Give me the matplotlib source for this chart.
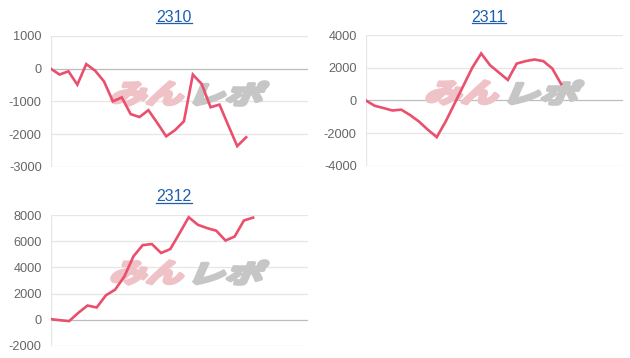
import matplotlib
matplotlib.use('Agg')
import matplotlib.pyplot as plt
from matplotlib.textpath import TextPath
from matplotlib.patches import PathPatch
from matplotlib.font_manager import FontProperties
from matplotlib.transforms import Affine2D, IdentityTransform
from matplotlib.lines import Line2D

# monthly cumulative P/L, one value per trading day
titles = ['2310', '2311', '2312']
pl_2310 = [0, -180, -80, -490, 140, -60, -390, -1000, -880, -1390, -1480,
           -1270, -1660, -2070, -1880, -1610, -180, -470, -1180, -1100,
           -1740, -2370, -2100]
pl_2311 = [0, -330, -470, -620, -570, -900, -1300, -1800, -2250, -1300,
           -200, 900, 2000, 2870, 2150, 1700, 1250, 2250, 2400, 2500, 2400,
           1950, 1000]
pl_2312 = [50, -30, -100, 530, 1090, 940, 1870, 2300, 3300, 4850, 5700,
           5780, 5100, 5400, 6600, 7830, 7250, 7000, 6800, 6050, 6360, 7580,
           7800]
yticks_2310 = [-3000, -2000, -1000, 0, 1000]
yticks_2311 = [-4000, -2000, 0, 2000, 4000]
yticks_2312 = [-2000, 0, 2000, 4000, 6000, 8000]
xspan = [29, 29, 28]

W, H = 630, 358
LINE = '#ea4f6c'
LINK = '#1f5fae'
GRID = '#e6e6e6'
ZERO = '#bdbdbd'

fig = plt.figure(figsize=(W / 100, H / 100), dpi=100)

# axes boxes in pixels: left, top, width, height
boxes = [(50.7, 36, 257.6, 130.7), (365.7, 35, 257.6, 130.7),
         (50.7, 215, 257.6, 131)]
series = [pl_2310, pl_2311, pl_2312]
yticks = [yticks_2310, yticks_2311, yticks_2312]

fp = FontProperties(family='Noto Sans CJK JP', weight='bold')


def mark(ax, text, x0, x1, color):
    # watermark logo drawn as a skewed, thickened text path
    tp = TextPath((0, 0), text, size=1, prop=fp)
    path = Affine2D().skew_deg(16, 0).transform_path(tp)
    ext = path.get_extents()
    bb = ax.get_position()
    left, top = bb.x0 * W, bb.y1 * H
    xa, xb = left + x0 + 2, left + x1 - 2
    ytop, ybot = top - 46, top - 69
    t = (Affine2D().translate(-ext.x0, -ext.y0)
         .scale((xb - xa) / ext.width, (ytop - ybot) / ext.height)
         .translate(xa, ybot))
    p = PathPatch(t.transform_path(path), fc=color, ec=color, lw=2.6,
                  joinstyle='round', transform=IdentityTransform(), zorder=1)
    ax.add_patch(p)


axes = []
for (l, t, w, h), vals, yt, xs in zip(boxes, series, yticks, xspan):
    ax = fig.add_axes([l / W, (H - t - h) / H, w / W, h / H])
    ax.plot(range(len(vals)), vals, color=LINE, lw=1.9, zorder=3,
            solid_joinstyle='miter')
    for v in yt:
        ax.axhline(v, color=ZERO if v == 0 else GRID, lw=0.9, zorder=0.5)
    ax.axvline(0, color=GRID, lw=0.9, zorder=0.5)
    ax.set_xlim(0, xs)
    ax.set_ylim(yt[0], yt[-1])
    ax.set_yticks(yt)
    ax.set_yticklabels([str(v) for v in yt])
    ax.set_xticks([])
    ax.tick_params(axis='y', length=0, pad=6.5, labelsize=9.2,
                   labelcolor='#666666')
    for lab in ax.get_yticklabels():
        lab.set_family('Liberation Sans')
    for s in ax.spines.values():
        s.set_visible(False)
    ax.set_facecolor('none')
    mark(ax, 'みん', 59.3, 134.3, '#efc2c7')
    mark(ax, 'レポ', 141.3, 219.3, '#c6c6c6')
    axes.append(ax)

# titles, underlined like links
title_pos = [(174, 17), (488.7, 17), (174, 196.7)]
txts = []
for name, (x, y) in zip(titles, title_pos):
    txts.append(fig.text(x / W, 1 - y / H, name, ha='center', va='center',
                         fontsize=11.5, color=LINK, family='Liberation Sans'))
fig.canvas.draw()
r = fig.canvas.get_renderer()
for tx in txts:
    bb = tx.get_window_extent(r)
    fig.add_artist(Line2D([bb.x0, bb.x1], [bb.y0 + 1.5, bb.y0 + 1.5],
                          transform=IdentityTransform(), color=LINK, lw=0.9))

fig.savefig('out.png', dpi=100)
